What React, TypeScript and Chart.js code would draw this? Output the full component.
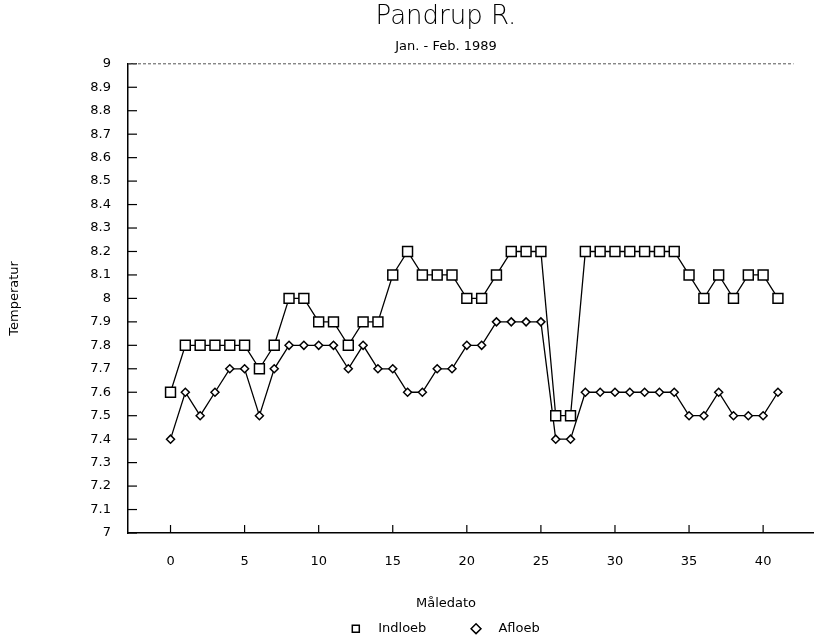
import { useEffect, useRef } from 'react';
import { Chart, registerables } from 'chart.js';

Chart.register(...registerables);

const measureDays = [0,1,2,3,4,5,6,7,8,9,10,11,12,13,14,15,16,17,18,19,20,21,22,23,24,25,26,27,28,29,30,31,32,33,34,35,36,37,38,39,40,41];
const indloeb = [7.6,7.8,7.8,7.8,7.8,7.8,7.7,7.8,8.0,8.0,7.9,7.9,7.8,7.9,7.9,8.1,8.2,8.1,8.1,8.1,8.0,8.0,8.1,8.2,8.2,8.2,7.5,7.5,8.2,8.2,8.2,8.2,8.2,8.2,8.2,8.1,8.0,8.1,8.0,8.1,8.1,8.0];
const afloeb = [7.4,7.6,7.5,7.6,7.7,7.7,7.5,7.7,7.8,7.8,7.8,7.8,7.7,7.8,7.7,7.7,7.6,7.6,7.7,7.7,7.8,7.8,7.9,7.9,7.9,7.9,7.4,7.4,7.6,7.6,7.6,7.6,7.6,7.6,7.6,7.5,7.5,7.6,7.5,7.5,7.5,7.6];
const xTickValues = [0,5,10,15,20,25,30,35,40];
const yTickValues = [7,7.1,7.2,7.3,7.4,7.5,7.6,7.7,7.8,7.9,8,8.1,8.2,8.3,8.4,8.5,8.6,8.7,8.8,8.9,9];
const titleText = 'Pandrup R.';
const subtitleText = 'Jan. - Feb. 1989';
const xTitle = 'Måledato';
const yTitle = 'Temperatur';
const seriesNames = ['Indloeb', 'Afloeb'];

const FONT = "'DejaVu Sans', sans-serif";

const inwardTicks = {
  id: 'inwardTicks',
  afterDatasetsDraw(chart: any) {
    const { ctx, chartArea, scales } = chart;
    const { left, right, top, bottom } = chartArea;
    ctx.save();
    ctx.strokeStyle = '#000';
    ctx.lineWidth = 1.2;
    for (const v of yTickValues) {
      const y = scales.y.getPixelForValue(v);
      ctx.beginPath();
      ctx.moveTo(left, y);
      ctx.lineTo(left + 9, y);
      ctx.stroke();
    }
    for (const v of xTickValues) {
      const x = scales.x.getPixelForValue(v);
      ctx.beginPath();
      ctx.moveTo(x, bottom);
      ctx.lineTo(x, bottom - 8);
      ctx.stroke();
    }
    ctx.setLineDash([3, 2]);
    ctx.lineWidth = 1;
    ctx.strokeStyle = '#555';
    ctx.beginPath();
    ctx.moveTo(left, top);
    ctx.lineTo(right - 20, top);
    ctx.stroke();
    ctx.restore();
  },
};

export default function App() {
  const ref = useRef<HTMLCanvasElement | null>(null);
  useEffect(() => {
    document.body.style.margin = '0';
    const canvas = ref.current;
    if (!canvas) return;
    const chart = new Chart(canvas, {
      type: 'line',
      data: {
        labels: measureDays,
        datasets: [
          {
            label: seriesNames[0],
            data: measureDays.map((d, i) => ({ x: d, y: indloeb[i] })),
            borderColor: '#000',
            backgroundColor: '#fff',
            borderWidth: 1.3,
            pointStyle: 'rect',
            pointRadius: 7,
            pointBorderWidth: 1.5,
            pointBorderColor: '#000',
            pointBackgroundColor: '#fff',
            tension: 0,
          },
          {
            label: seriesNames[1],
            data: measureDays.map((d, i) => ({ x: d, y: afloeb[i] })),
            borderColor: '#000',
            backgroundColor: '#fff',
            borderWidth: 1.3,
            pointStyle: 'rectRot',
            pointRadius: 4,
            pointBorderWidth: 1.5,
            pointBorderColor: '#000',
            pointBackgroundColor: '#fff',
            tension: 0,
          },
        ],
      },
      options: {
        animation: false,
        responsive: false,
        maintainAspectRatio: false,
        layout: { padding: { left: 70, right: 0, top: 0, bottom: 0 } },
        scales: {
          x: {
            type: 'linear',
            min: -2.87,
            max: 43.4,
            afterBuildTicks: (scale: any) => {
              scale.ticks = xTickValues.map((v) => ({ value: v }));
            },
            grid: { display: false },
            border: { display: true, color: '#000', width: 1.5 },
            ticks: {
              color: '#000',
              font: { family: FONT, size: 13 },
              padding: 13,
              maxRotation: 0,
              callback: (v: any) => String(v),
            },
          },
          y: {
            type: 'linear',
            min: 7,
            max: 9,
            afterBuildTicks: (scale: any) => {
              scale.ticks = yTickValues.map((v) => ({ value: v }));
            },
            afterFit: (scale: any) => {
              scale.width = 58;
            },
            grid: { display: false },
            border: { display: true, color: '#000', width: 1.5 },
            ticks: {
              color: '#000',
              font: { family: FONT, size: 13 },
              padding: 9,
              callback: (v: any) => String(Math.round(Number(v) * 10) / 10),
            },
            title: {
              display: true,
              text: yTitle,
              color: '#000',
              font: { family: FONT, size: 13 },
              padding: { top: -63, bottom: 0 },
            },
          },
        },
        plugins: {
          title: {
            display: true,
            text: titleText,
            color: '#000',
            font: { family: FONT, size: 26, weight: '200' as any },
            padding: { top: 2, bottom: 0 },
          },
          subtitle: {
            display: true,
            text: subtitleText,
            color: '#000',
            font: { family: FONT, size: 13 },
            padding: { top: 6, bottom: 9 },
          },
          legend: {
            display: true,
            position: 'bottom',
            maxHeight: 58.4,
            title: {
              display: true,
              text: xTitle,
              color: '#000',
              font: { family: FONT, size: 13 },
              padding: { top: 15, bottom: 0 },
            },
            labels: {
              usePointStyle: true,
              color: '#000',
              font: { family: FONT, size: 13 },
              boxWidth: 7,
              boxHeight: 7,
              padding: 9,
              generateLabels: (ch: any) => {
                const items = Chart.defaults.plugins.legend.labels.generateLabels(ch);
                return items.map((it: any, i: number) => ({
                  ...it,
                  text: '   ' + it.text + (i === 0 ? '         ' : ''),
                  lineWidth: 1.5,
                }));
              },
            },
          },
          tooltip: { enabled: false },
        },
      },
      plugins: [inwardTicks],
    });
    return () => chart.destroy();
  }, []);
  return (
    <div style={{ width: 822, height: 641 }}>
      <canvas ref={ref} width={822} height={641} style={{ display: 'block' }} />
    </div>
  );
}
